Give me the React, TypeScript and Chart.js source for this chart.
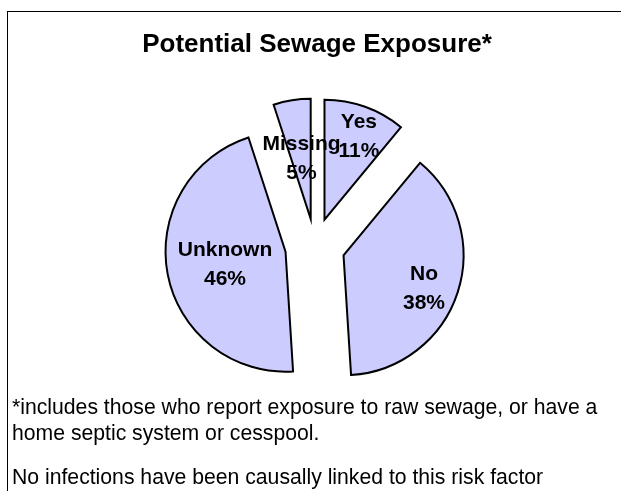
import React, { useEffect, useRef } from "react";
import { Chart, registerables } from "chart.js";

Chart.register(...registerables);

// ---- data ----
const categories: string[] = ["Yes", "No", "Unknown", "Missing"];
const shares: number[] = [11, 38, 46, 5];
const titleText = "Potential Sewage Exposure*";
const noteLines: string[] = [
  "*includes those who report exposure to raw sewage, or have a",
  "home septic system or cesspool.",
];
const noteLast = "No infections have been causally linked to this risk factor";

// ---- styling ----
const explode: number[] = [28, 30, 30, 27.5]; // px each slice is pulled out
const labelRadii: number[] = [0.77, 0.718, 0.512, 0.525];
const labelTurn: number[] = [2.1, 2.9, 1.0, 0.6]; // degrees
const FONT = "'Liberation Sans', Arial, Helvetica, sans-serif";
const FILL = "#CCCCFF";

const explodeSlices = {
  id: "explodeSlices",
  beforeDatasetsDraw(chart: any) {
    const meta = chart.getDatasetMeta(0);
    const ca = chart.chartArea;
    const bx = (ca.left + ca.right) / 2;
    const by = (ca.top + ca.bottom) / 2;
    meta.data.forEach((arc: any, i: number) => {
      const half = (arc.startAngle + arc.endAngle) / 2;
      arc.x = bx + Math.cos(half) * explode[i];
      arc.y = by + Math.sin(half) * explode[i];
    });
  },
};

const sliceLabels = {
  id: "sliceLabels",
  afterDatasetsDraw(chart: any) {
    const ctx = chart.ctx as CanvasRenderingContext2D;
    const meta = chart.getDatasetMeta(0);
    const total = shares.reduce((a, b) => a + b, 0);
    ctx.save();
    ctx.font = `bold 21px ${FONT}`;
    ctx.fillStyle = "#000";
    ctx.textAlign = "center";
    ctx.textBaseline = "middle";
    meta.data.forEach((arc: any, i: number) => {
      const half = (arc.startAngle + arc.endAngle) / 2 + (labelTurn[i] * Math.PI) / 180;
      const r = arc.outerRadius * labelRadii[i];
      const cx = arc.x + Math.cos(half) * r;
      const cy = arc.y + Math.sin(half) * r + 2.5;
      ctx.fillText(categories[i], cx, cy - 14.5);
      ctx.fillText(Math.round((shares[i] / total) * 100) + "%", cx, cy + 14.5);
    });
    ctx.restore();
  },
};

export default function App() {
  const ref = useRef<HTMLCanvasElement | null>(null);

  useEffect(() => {
    if (!ref.current) return;
    const chart = new Chart(ref.current, {
      type: "pie",
      data: {
        labels: categories,
        datasets: [
          {
            data: shares,
            backgroundColor: FILL,
            borderColor: "#000",
            borderWidth: 2,
            borderJoinStyle: "miter",
          } as any,
        ],
      },
      options: {
        responsive: false,
        animation: false,
        radius: 120,
        layout: { padding: { top: 120, bottom: 119, left: 100, right: 91 } },
        plugins: {
          legend: { display: false },
          title: { display: false },
          tooltip: { enabled: false },
        },
        events: [],
      } as any,
      plugins: [explodeSlices, sliceLabels],
    });
    return () => chart.destroy();
  }, []);

  const noteStyle: React.CSSProperties = {
    position: "absolute",
    left: 12,
    fontSize: 21.2,
    lineHeight: "21px",
    whiteSpace: "nowrap",
  };

  return (
    <div
      style={{
        position: "absolute",
        left: 0,
        top: 0,
        width: 621,
        height: 491,
        background: "#fff",
        overflow: "hidden",
        fontFamily: FONT,
        color: "#000",
      }}
    >
      <div
        style={{
          position: "absolute",
          left: 7,
          top: 11,
          width: 700,
          height: 600,
          borderLeft: "1px solid #000",
          borderTop: "1px solid #000",
        }}
      />
      <canvas
        ref={ref}
        width={621}
        height={491}
        style={{ position: "absolute", left: 0, top: 0, width: 621, height: 491 }}
      />
      <div
        style={{
          position: "absolute",
          left: 0,
          top: 30,
          width: 634,
          textAlign: "center",
          fontWeight: "bold",
          fontSize: 26,
          lineHeight: "26px",
          whiteSpace: "nowrap",
        }}
      >
        {titleText}
      </div>
      {noteLines.map((t, i) => (
        <div key={i} style={{ ...noteStyle, top: 396 + i * 26 }}>
          {t}
        </div>
      ))}
      <div style={{ ...noteStyle, top: 466 }}>{noteLast}</div>
    </div>
  );
}
